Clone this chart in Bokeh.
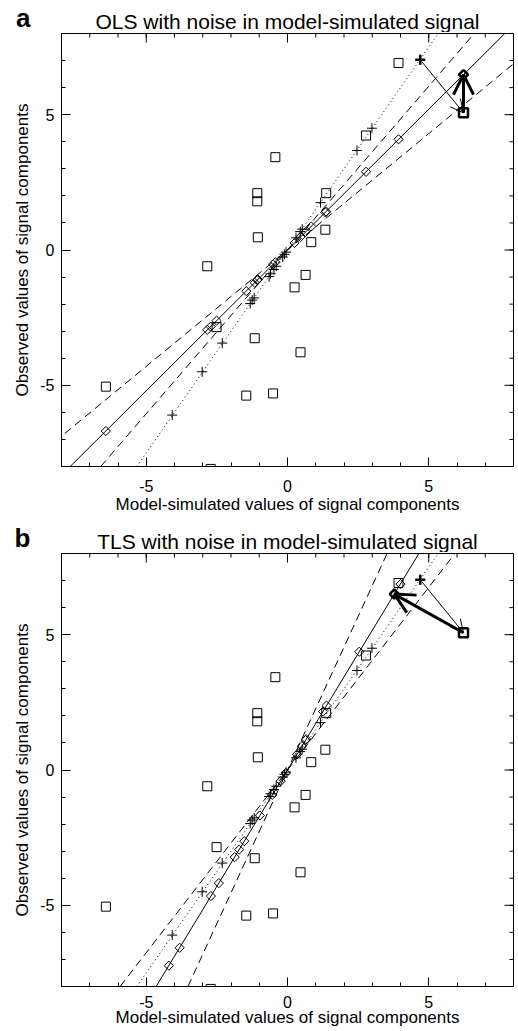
from bokeh.plotting import figure
from bokeh.layouts import column
from bokeh.models import Range1d, FixedTicker, Slope, Arrow, OpenHead, Label
from bokeh.embed import file_html
from bokeh.resources import INLINE

# Observations (squares): model-simulated (x) vs observed (y)
obs_x = [3.93, 2.78, -0.43, -1.07, -1.07, 1.37, -1.05, 1.34, 0.84, 6.23,
         -2.84, 0.64, 0.25, -2.51, -1.16, 0.46, -6.43, -1.46, -0.51, -2.72]
obs_y = [6.91, 4.23, 3.43, 2.10, 1.80, 2.10, 0.47, 0.75, 0.29, 5.07,
         -0.60, -0.92, -1.38, -2.85, -3.26, -3.78, -5.05, -5.38, -5.30, -8.09]

# Noise-free signal components (plus signs)
true_x = [4.70, 2.99, 2.46, 1.17, 0.52, 0.45, 0.30, -0.05, -0.11, -0.17,
          -0.40, -0.48, -0.60, -0.65, -1.18, -1.25, -1.32, -2.31, -3.02, -4.08]
true_y = [7.03, 4.50, 3.68, 1.75, 0.77, 0.68, 0.45, -0.08, -0.16, -0.26,
          -0.60, -0.72, -0.88, -0.98, -1.77, -1.85, -1.98, -3.44, -4.50, -6.10]

# OLS fitted points (diamonds, panel a)
ols_x = obs_x
ols_y = [4.09, 2.89, -0.45, -1.11, -1.11, 1.42, -1.09, 1.39, 0.87, 6.48,
         -2.95, 0.67, 0.26, -2.61, -1.21, 0.48, -6.69, -1.52, -0.53, -2.83]

# TLS fitted points (diamonds, panel b)
tls_x = [4.00, 2.54, 1.38, 0.64, 0.51, 1.26, -0.06, 0.66, 0.34, 3.78,
         -0.98, -0.24, -0.54, -1.87, -1.71, -1.53, -3.82, -2.71, -2.43, -4.20]
tls_y = [6.87, 4.37, 2.38, 1.10, 0.88, 2.16, -0.11, 1.14, 0.58, 6.50,
         -1.68, -0.41, -0.92, -3.22, -2.94, -2.63, -6.57, -4.66, -4.18, -7.23]

bold_obs = 9      # highlighted observation
bold_true = 0     # its noise-free counterpart

true_slope = 1.5
ols_slope = 1.04
ols_range = [0.86, 1.21]
tls_slope = 1.72
tls_range = [1.35, 2.27]

axis_lim = [-8, 8]
major_ticks = [-5, 0, 5]
minor_ticks = list(range(-8, 9))
tick_labels = {-5: "-5", 0: "0", 5: "5"}

panel_letters = ["a", "b"]
panel_titles = ["OLS with noise in model-simulated signal",
                "TLS with noise in model-simulated signal"]
x_title = "Model-simulated values of signal components"
y_title = "Observed values of signal components"

FONT = "Liberation Sans"
W = 518
HEADER_H = 32
LETTER_Y = 15    # header coordinate (px from header bottom) of the letter's centre line
TITLE_Y = 11     # header coordinate (px from header bottom) of the title anchor


def header(letter, title):
    h = figure(width=W, height=HEADER_H, x_range=Range1d(0, 1), y_range=Range1d(0, HEADER_H),
               output_backend="svg", toolbar_location=None,
               min_border_left=61, min_border_right=5, min_border_top=0,
               min_border_bottom=0, x_axis_location=None, y_axis_location="left")
    h.grid.visible = False
    h.outline_line_color = None
    h.background_fill_color = "white"
    h.border_fill_color = "white"
    ax = h.yaxis[0]
    ax.ticker = FixedTicker(ticks=[LETTER_Y], minor_ticks=[])
    ax.major_label_overrides = {LETTER_Y: letter}
    ax.axis_line_color = None
    ax.major_tick_line_color = None
    ax.minor_tick_line_color = None
    ax.major_tick_out = 0
    ax.major_tick_in = 0
    ax.major_label_standoff = 31
    ax.major_label_text_font = FONT
    ax.major_label_text_font_size = "26px"
    ax.major_label_text_font_style = "bold"
    ax.major_label_text_color = "black"
    h.add_layout(Label(x=0.5, y=TITLE_Y, text=title, text_font=FONT, text_font_size="21px",
                       text_color="black", text_baseline="alphabetic",
                       text_align="center"))
    return h


def style_axis(ax):
    ax.ticker = FixedTicker(ticks=major_ticks, minor_ticks=minor_ticks)
    ax.major_label_overrides = tick_labels
    ax.major_tick_in = 9
    ax.major_tick_out = 0
    ax.minor_tick_in = 4
    ax.minor_tick_out = 0
    ax.axis_line_color = "black"
    ax.major_tick_line_color = "black"
    ax.minor_tick_line_color = "black"
    ax.major_label_text_font = FONT
    ax.axis_label_text_font = FONT
    ax.axis_label_text_font_style = "normal"
    ax.axis_label_text_color = "black"
    ax.major_label_text_color = "black"
    ax.major_label_text_font_size = "16px"
    ax.axis_label_text_font_size = "17px"


def panel(fit_x, fit_y, slope, rng, height, bottom, lab_standoff, ax_standoff):
    p = figure(width=W, height=height, x_range=Range1d(*axis_lim), y_range=Range1d(*axis_lim),
               output_backend="svg", toolbar_location=None,
               min_border_left=61, min_border_right=5, min_border_top=1,
               min_border_bottom=bottom)
    p.grid.visible = False
    p.outline_line_color = "black"
    p.outline_line_width = 1
    p.background_fill_color = "white"
    p.border_fill_color = "white"

    style_axis(p.xaxis[0])
    style_axis(p.yaxis[0])
    p.xaxis[0].axis_label = x_title
    p.yaxis[0].axis_label = y_title
    p.xaxis[0].major_label_standoff = lab_standoff
    p.xaxis[0].axis_label_standoff = ax_standoff
    p.yaxis[0].major_label_standoff = 7
    p.yaxis[0].axis_label_standoff = 5

    # mirrored ticks on the top and right edges
    n_min, n_maj = len(minor_ticks), len(major_ticks)
    p.ray(x=minor_ticks, y=[axis_lim[1]] * n_min, length=4, length_units="screen",
          angle=-1.5708, line_color="black", line_width=1)
    p.ray(x=major_ticks, y=[axis_lim[1]] * n_maj, length=9, length_units="screen",
          angle=-1.5708, line_color="black", line_width=1)
    p.ray(x=[axis_lim[1]] * n_min, y=minor_ticks, length=4, length_units="screen",
          angle=3.14159, line_color="black", line_width=1)
    p.ray(x=[axis_lim[1]] * n_maj, y=major_ticks, length=9, length_units="screen",
          angle=3.14159, line_color="black", line_width=1)

    # lines
    p.add_layout(Slope(gradient=true_slope, y_intercept=0, line_color="black",
                       line_width=1, line_dash="1 3"))
    p.add_layout(Slope(gradient=slope, y_intercept=0, line_color="black", line_width=1))
    for g in rng:
        p.add_layout(Slope(gradient=g, y_intercept=0, line_color="black",
                           line_width=1, line_dash="8 5"))

    # points
    p.scatter(obs_x, obs_y, marker="square", size=9, fill_color=None,
              line_color="black", line_width=1)
    p.scatter(fit_x, fit_y, marker="square", angle=0.7854, size=6.5, fill_color=None,
              line_color="black", line_width=1)
    p.scatter(true_x, true_y, marker="cross", size=10, line_color="black", line_width=1)

    # highlighted point
    p.scatter([obs_x[bold_obs]], [obs_y[bold_obs]], marker="square", size=9,
              fill_color=None, line_color="black", line_width=2.5)
    p.scatter([fit_x[bold_obs]], [fit_y[bold_obs]], marker="square", angle=0.7854,
              size=6.5, fill_color=None, line_color="black", line_width=2.5)
    p.scatter([true_x[bold_true]], [true_y[bold_true]], marker="cross", size=10,
              line_color="black", line_width=2.5)

    p.add_layout(Arrow(x_start=true_x[bold_true], y_start=true_y[bold_true],
                       x_end=obs_x[bold_obs], y_end=obs_y[bold_obs],
                       line_color="black", line_width=1,
                       end=OpenHead(size=13, line_width=1, line_color="black")))
    p.add_layout(Arrow(x_start=obs_x[bold_obs], y_start=obs_y[bold_obs],
                       x_end=fit_x[bold_obs], y_end=fit_y[bold_obs],
                       line_color="black", line_width=3,
                       end=OpenHead(size=20, line_width=3, line_color="black")))
    return p


ha = header(panel_letters[0], panel_titles[0])
pa = panel(ols_x, ols_y, ols_slope, ols_range, 488, 54, 13, 0)
hb = header(panel_letters[1], panel_titles[1])
pb = panel(tls_x, tls_y, tls_slope, tls_range, 479, 45, 9, -3)

layout = column(ha, pa, hb, pb, spacing=0)
open("out.html", "w").write(file_html(layout, INLINE))
